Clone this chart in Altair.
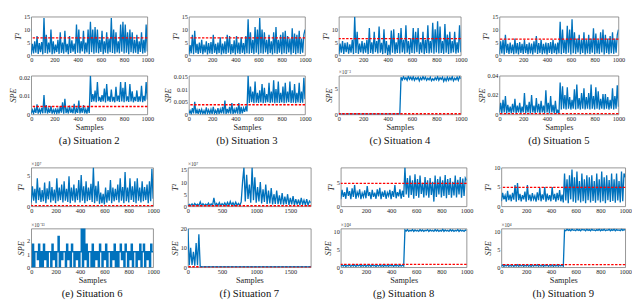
import altair as alt
import pandas as pd

FONT = "Liberation Serif"
BLUE = "#0072BD"
RED = "#FF0000"

# ---------------- data (one point per 10 samples) -------------
A_T2 = [0.5, 4.5, 0.8, 5.5, 1.0, 7.5, 0.6, 4.8, 1.2, 5.2,
        0.4, 14.5, 0.9, 8.0, 0.7, 5.0, 1.1, 10.0, 0.5, 5.5,
        0.8, 4.2, 1.3, 6.0, 0.6, 9.0, 1.0, 5.0, 0.7, 9.5,
        1.2, 4.5, 0.5, 7.5, 0.9, 5.8, 1.4, 4.6, 0.6, 12.0,
        1.0, 10.0, 0.8, 5.5, 1.5, 9.5, 0.7, 5.0, 1.1, 10.0,
        0.5, 13.0, 1.2, 10.0, 0.6, 11.0, 1.0, 10.0, 0.8, 6.0,
        1.3, 9.5, 0.5, 5.5, 1.0, 9.0, 0.7, 6.5, 1.2, 14.5,
        0.9, 10.0, 0.6, 9.0, 1.1, 5.5, 0.8, 12.0, 1.4, 13.0,
        0.7, 12.0, 1.0, 9.0, 0.5, 10.0, 1.2, 9.0, 0.8, 6.0,
        1.0, 8.0, 0.6, 5.5, 1.3, 9.0, 0.7, 6.0, 1.0, 12.0,
        1.5]
A_SPE = [0.0006, 0.0025, 0.0005, 0.0030, 0.0008, 0.0055, 0.0004, 0.0028, 0.0009, 0.0035,
         0.0006, 0.0105, 0.0007, 0.0050, 0.0005, 0.0030, 0.0009, 0.0045, 0.0004, 0.0025,
         0.0008, 0.0032, 0.0006, 0.0028, 0.0005, 0.0045, 0.0009, 0.0065, 0.0004, 0.0085,
         0.0007, 0.0030, 0.0005, 0.0048, 0.0009, 0.0028, 0.0006, 0.0058, 0.0004, 0.0030,
         0.0008, 0.0075, 0.0005, 0.0035, 0.0009, 0.0050, 0.0006, 0.0028, 0.0004, 0.0042,
         0.0008, 0.0210, 0.0068, 0.0110, 0.0070, 0.0130, 0.0066, 0.0175, 0.0072, 0.0095,
         0.0068, 0.0105, 0.0070, 0.0140, 0.0065, 0.0165, 0.0072, 0.0098, 0.0068, 0.0135,
         0.0070, 0.0095, 0.0066, 0.0150, 0.0072, 0.0102, 0.0068, 0.0175, 0.0070, 0.0145,
         0.0066, 0.0175, 0.0071, 0.0098, 0.0068, 0.0165, 0.0070, 0.0125, 0.0066, 0.0095,
         0.0072, 0.0130, 0.0068, 0.0098, 0.0070, 0.0155, 0.0066, 0.0100, 0.0072, 0.0175,
         0.0080]
B_T2 = [0.4, 4.0, 0.8, 8.0, 0.5, 9.5, 1.0, 4.5, 0.6, 5.0,
        0.9, 6.0, 0.5, 4.2, 1.1, 5.5, 0.4, 4.8, 0.8, 5.2,
        0.6, 8.0, 1.0, 4.5, 0.5, 5.0, 0.9, 7.0, 0.4, 4.6,
        0.8, 5.5, 0.6, 8.0, 1.0, 7.5, 0.5, 4.4, 0.9, 5.8,
        0.4, 7.5, 0.8, 5.0, 0.6, 7.0, 1.0, 4.8, 0.5, 7.5,
        0.8, 14.0, 0.6, 9.0, 0.9, 6.0, 0.5, 11.0, 1.0, 10.0,
        0.4, 14.5, 0.8, 10.0, 0.6, 9.0, 1.1, 6.0, 0.5, 8.0,
        0.9, 5.5, 0.4, 9.0, 0.8, 11.0, 0.6, 6.0, 1.0, 8.0,
        0.5, 9.0, 0.8, 9.5, 0.6, 7.5, 1.1, 6.5, 0.4, 10.5,
        0.9, 8.5, 0.5, 8.0, 0.8, 9.5, 0.6, 6.5, 1.0, 8.0,
        10.0]
B_SPE = [0.0003, 0.0015, 0.0002, 0.0025, 0.0004, 0.0050, 0.0003, 0.0018, 0.0002, 0.0022,
         0.0004, 0.0020, 0.0003, 0.0015, 0.0002, 0.0028, 0.0004, 0.0018, 0.0003, 0.0020,
         0.0002, 0.0030, 0.0004, 0.0016, 0.0003, 0.0025, 0.0002, 0.0020, 0.0004, 0.0030,
         0.0003, 0.0055, 0.0002, 0.0022, 0.0004, 0.0030, 0.0003, 0.0045, 0.0002, 0.0020,
         0.0004, 0.0028, 0.0003, 0.0045, 0.0002, 0.0030, 0.0004, 0.0025, 0.0010, 0.0032,
         0.0012, 0.0153, 0.0045, 0.0110, 0.0048, 0.0090, 0.0044, 0.0130, 0.0046, 0.0085,
         0.0045, 0.0095, 0.0047, 0.0120, 0.0044, 0.0105, 0.0046, 0.0080, 0.0048, 0.0125,
         0.0045, 0.0090, 0.0047, 0.0135, 0.0044, 0.0100, 0.0046, 0.0130, 0.0045, 0.0085,
         0.0047, 0.0110, 0.0044, 0.0125, 0.0046, 0.0090, 0.0048, 0.0130, 0.0045, 0.0095,
         0.0046, 0.0120, 0.0044, 0.0085, 0.0047, 0.0125, 0.0045, 0.0090, 0.0046, 0.0145,
         0.0060]
C_T2 = [0.5, 4.5, 1.0, 5.5, 0.6, 4.8, 1.2, 5.0, 0.7, 4.2,
        1.0, 6.0, 0.5, 14.8, 0.9, 9.0, 0.6, 4.5, 1.1, 5.5,
        0.7, 4.8, 1.0, 6.0, 0.5, 10.5, 0.9, 5.0, 0.6, 9.0,
        1.2, 5.5, 0.7, 11.0, 1.0, 4.8, 0.5, 10.0, 0.8, 5.5,
        0.2, 4.0, 0.3, 9.5, 1.0, 10.0, 0.6, 5.0, 0.9, 8.5,
        0.7, 10.5, 1.1, 6.0, 0.6, 11.5, 1.0, 5.5, 0.5, 6.5,
        0.9, 10.5, 0.7, 9.0, 1.2, 10.5, 0.6, 5.0, 1.0, 9.0,
        0.5, 6.0, 0.9, 11.5, 0.7, 5.5, 1.0, 12.5, 0.6, 10.0,
        1.1, 13.0, 0.7, 11.0, 0.9, 5.5, 0.6, 12.0, 1.0, 8.0,
        0.5, 9.0, 0.8, 5.5, 1.1, 9.0, 0.7, 5.0, 1.0, 11.5,
        1.2]
C_SPE = [0.05, 0.08, 0.04, 0.09, 0.05, 0.07, 0.04, 0.08, 0.05, 0.09,
         0.04, 0.08, 0.05, 0.07, 0.04, 0.09, 0.05, 0.08, 0.04, 0.07,
         0.05, 0.09, 0.04, 0.08, 0.05, 0.07, 0.04, 0.09, 0.05, 0.08,
         0.04, 0.07, 0.05, 0.09, 0.04, 0.08, 0.05, 0.07, 0.04, 0.09,
         0.05, 0.08, 0.04, 0.07, 0.05, 0.09, 0.04, 0.08, 0.05, 0.07,
         0.06, 7.30, 6.80, 7.40, 6.90, 7.20, 6.70, 7.50, 6.90, 7.30,
         6.80, 7.40, 6.70, 7.20, 6.90, 7.30, 6.60, 7.20, 6.80, 7.40,
         6.90, 7.30, 6.70, 7.10, 6.80, 7.30, 6.60, 7.00, 6.70, 7.20,
         6.80, 7.40, 6.70, 7.20, 6.90, 7.30, 6.50, 7.10, 6.60, 7.30,
         6.70, 7.20, 6.80, 7.40, 6.60, 7.10, 6.80, 7.30, 6.70, 7.40,
         7.00]
D_T2 = [0.5, 5.5, 0.8, 6.0, 0.4, 8.0, 1.0, 4.5, 0.6, 5.0,
        0.9, 4.2, 0.5, 6.5, 0.8, 4.8, 0.4, 5.2, 1.0, 4.5,
        0.6, 6.0, 0.9, 4.4, 0.5, 5.0, 0.8, 4.6, 0.4, 5.5,
        1.0, 7.5, 0.6, 4.8, 0.9, 6.0, 0.5, 4.5, 0.8, 5.0,
        0.4, 4.8, 1.0, 5.2, 0.6, 6.0, 0.9, 4.6, 0.5, 5.0,
        0.8, 13.0, 0.5, 10.0, 0.9, 6.0, 0.6, 11.5, 1.0, 10.0,
        0.4, 14.0, 0.8, 9.0, 0.6, 6.5, 1.1, 8.0, 0.5, 6.0,
        0.9, 9.0, 0.4, 6.0, 0.8, 8.0, 0.6, 6.5, 1.0, 10.5,
        0.5, 8.5, 0.8, 6.0, 0.6, 9.0, 1.1, 10.0, 0.4, 8.0,
        0.9, 6.5, 0.5, 7.5, 0.8, 9.0, 0.6, 6.5, 1.0, 8.0,
        10.0]
D_SPE = [0.002, 0.012, 0.001, 0.015, 0.002, 0.019, 0.001, 0.010, 0.002, 0.008,
         0.001, 0.011, 0.002, 0.016, 0.001, 0.009, 0.002, 0.012, 0.001, 0.008,
         0.002, 0.022, 0.001, 0.010, 0.002, 0.013, 0.001, 0.020, 0.002, 0.009,
         0.001, 0.017, 0.002, 0.011, 0.001, 0.014, 0.002, 0.009, 0.001, 0.025,
         0.002, 0.012, 0.001, 0.019, 0.002, 0.010, 0.001, 0.014, 0.001, 0.004,
         0.001, 0.033, 0.005, 0.029, 0.006, 0.020, 0.005, 0.028, 0.006, 0.018,
         0.005, 0.015, 0.006, 0.026, 0.005, 0.031, 0.006, 0.017, 0.005, 0.022,
         0.006, 0.027, 0.005, 0.018, 0.006, 0.022, 0.005, 0.031, 0.006, 0.019,
         0.005, 0.028, 0.006, 0.024, 0.005, 0.016, 0.006, 0.021, 0.005, 0.021,
         0.006, 0.018, 0.005, 0.015, 0.006, 0.027, 0.005, 0.019, 0.006, 0.030,
         0.008]
E_T2 = [0.6, 3.2, 0.9, 2.8, 0.5, 4.5, 1.0, 3.0, 0.7, 2.6,
        0.8, 3.8, 0.5, 2.9, 1.1, 4.0, 0.6, 3.1, 0.9, 2.7,
        0.5, 4.5, 0.8, 3.0, 1.0, 3.5, 0.6, 4.0, 0.9, 2.8,
        0.7, 4.8, 0.5, 3.0, 0.9, 3.5, 0.6, 2.9, 1.0, 4.2,
        0.6, 5.0, 0.9, 3.2, 0.5, 4.0, 0.8, 3.0, 1.0, 3.6,
        0.7, 6.2, 0.5, 3.3, 0.8, 4.0, 0.4, 2.2, 0.5, 2.0,
        0.3, 3.0, 0.6, 2.6, 0.9, 4.2, 0.5, 3.0, 0.8, 2.8,
        1.0, 3.5, 0.6, 4.5, 0.9, 3.1, 0.5, 5.5, 0.8, 3.0,
        0.6, 4.5, 1.0, 3.2, 0.7, 4.0, 0.5, 4.5, 0.9, 3.0,
        0.6, 4.0, 0.8, 3.1, 1.0, 3.5, 0.5, 4.0, 0.8, 6.0,
        1.2]
E_SPE = [0, 1.77, 0, 1.18, 1.18, 0.59, 1.77, 0, 1.18, 0,
         1.77, 0.59, 1.18, 0, 1.18, 1.18, 0, 1.77, 0.59, 1.18,
         0, 1.18, 2.36, 0, 1.18, 0.59, 1.18, 1.18, 0, 1.77,
         0.59, 1.18, 0, 1.77, 1.18, 0, 1.18, 0.59, 1.18, 0,
         1.18, 2.95, 0, 2.95, 0.59, 1.77, 0, 1.18, 1.18, 0,
         1.77, 0, 1.18, 0.59, 1.18, 0, 1.77, 1.18, 0, 1.18,
         0.59, 1.77, 0, 1.18, 1.18, 0, 1.18, 0.59, 1.77, 0,
         1.18, 0, 1.18, 1.77, 0.59, 1.18, 0, 1.77, 1.18, 0,
         1.18, 0.59, 1.77, 0, 1.18, 1.18, 0, 1.18, 0.59, 1.77,
         0, 1.18, 1.77, 0, 1.18, 0.59, 1.18, 0, 1.77, 1.18,
         1.18]
# Situation 7: one point per 20 samples, 0..1800
F_T2 = [0.2, 0.8, 0.3, 1.0, 0.2, 1.2, 0.4, 0.9, 0.3, 1.8,
        0.2, 1.1, 0.3, 0.9, 0.4, 1.3, 0.2, 1.0, 0.3, 3.5,
        0.4, 1.2, 0.3, 1.5, 0.2, 1.1, 0.4, 1.4, 0.3, 1.6,
        0.3, 2.0, 0.4, 1.5, 0.3, 1.7, 0.4, 1.2, 0.3, 1.8,
        10.0, 16.0, 2.0, 13.0, 3.0, 9.0, 1.5, 16.0, 2.5, 12.0,
        1.5, 8.0, 2.0, 10.0, 1.2, 7.0, 1.8, 9.0, 1.0, 6.5,
        1.2, 7.5, 0.8, 5.0, 1.0, 6.5, 0.9, 4.5, 0.8, 5.5,
        0.7, 4.0, 0.9, 5.0, 0.6, 3.5, 0.8, 4.2, 0.6, 3.0,
        0.7, 2.8, 0.5, 3.5, 0.8, 2.5, 0.6, 3.0, 0.5, 2.2,
        1.5]
F_SPE_X = [0, 20, 40, 60, 80, 100, 120, 140, 160, 180, 1800]
F_SPE = [20.0, 1.0, 10.0, 1.2, 8.0, 0.8, 12.5, 1.0, 17.0, 0.2, 0.2]
G_T2 = [1.5, 3.5, 2.0, 3.0, 1.6, 4.0, 2.2, 3.2, 1.5, 3.8,
        2.0, 4.5, 1.6, 3.0, 2.2, 3.6, 1.5, 2.8, 2.0, 3.4,
        1.7, 4.3, 2.2, 3.0, 1.5, 3.5, 2.0, 2.9, 1.6, 3.6,
        2.1, 3.9, 1.5, 3.1, 2.0, 3.4, 1.6, 2.9, 2.2, 3.5,
        1.5, 3.2, 2.0, 4.5, 1.7, 3.0, 2.1, 3.6, 1.6, 3.3,
        2.0, 8.2, 2.5, 6.0, 1.8, 6.5, 2.4, 5.5, 1.6, 6.8,
        2.2, 5.8, 1.8, 6.5, 2.6, 5.0, 1.9, 6.2, 2.3, 5.5,
        1.8, 6.0, 2.4, 5.2, 1.0, 6.5, 2.0, 5.8, 2.5, 6.3,
        1.9, 5.5, 2.2, 6.6, 1.7, 5.8, 2.4, 6.0, 1.8, 5.2,
        2.3, 6.5, 1.9, 5.6, 2.5, 6.2, 1.8, 5.9, 2.2, 6.0,
        5.5]
G_SPE = [0.25, 0.6, 0.3, 0.7, 0.2, 0.55, 0.35, 0.65, 0.25, 0.6,
         0.3, 0.7, 0.2, 0.6, 0.35, 0.65, 0.25, 0.55, 0.3, 0.7,
         0.2, 0.6, 0.3, 0.65, 0.25, 0.7, 0.35, 0.55, 0.2, 0.6,
         0.3, 0.65, 0.25, 0.6, 0.2, 0.7, 0.3, 0.55, 0.25, 0.65,
         0.35, 0.6, 0.2, 0.7, 0.3, 0.6, 0.25, 0.65, 0.3, 0.6,
         0.3, 10.5, 10.2, 10.6, 10.1, 10.4, 10.2, 10.6, 10.1, 10.5,
         10.2, 10.4, 10.1, 10.6, 10.2, 10.5, 10.1, 10.4, 10.3, 10.6,
         10.1, 10.5, 10.2, 10.4, 10.1, 10.6, 10.2, 10.5, 10.1, 10.4,
         10.2, 10.7, 10.1, 10.5, 10.2, 10.4, 10.1, 10.6, 10.2, 10.5,
         10.1, 10.4, 10.2, 10.6, 10.1, 10.5, 10.2, 10.4, 10.1, 10.5,
         10.3]
H_T2 = [1.3, 3.5, 1.8, 2.8, 1.2, 4.0, 1.6, 3.0, 1.3, 3.5,
        1.7, 5.5, 1.2, 6.0, 1.6, 3.2, 1.3, 2.9, 1.8, 3.8,
        1.2, 5.5, 1.6, 3.0, 1.3, 3.4, 1.8, 2.7, 1.2, 3.6,
        1.6, 4.8, 1.3, 3.1, 1.7, 5.0, 1.2, 3.3, 1.6, 2.9,
        1.3, 5.0, 1.7, 3.2, 1.2, 3.5, 1.6, 4.2, 1.3, 3.0,
        1.0, 8.5, 1.5, 7.0, 0.8, 8.0, 1.8, 9.5, 1.2, 7.5,
        0.9, 9.0, 1.5, 6.5, 1.0, 8.5, 1.3, 7.0, 0.8, 8.0,
        1.6, 7.5, 1.0, 8.0, 1.4, 6.5, 0.9, 8.5, 1.5, 7.0,
        1.0, 9.0, 1.3, 7.5, 0.8, 8.0, 1.6, 6.8, 1.1, 8.5,
        1.4, 7.0, 0.9, 8.5, 1.5, 6.5, 1.0, 9.0, 1.3, 8.5,
        7.5]
H_SPE = [0.3, 0.65, 0.2, 0.6, 0.35, 0.7, 0.25, 0.55, 0.3, 0.65,
         0.2, 0.6, 0.3, 0.7, 0.25, 0.55, 0.35, 0.65, 0.2, 0.6,
         0.3, 0.7, 0.25, 0.6, 0.2, 0.65, 0.3, 0.55, 0.35, 0.7,
         0.25, 0.6, 0.3, 0.65, 0.2, 0.6, 0.35, 0.7, 0.25, 0.55,
         0.3, 0.65, 0.2, 0.6, 0.3, 0.7, 0.25, 0.6, 0.35, 0.65,
         0.3, 10.4, 10.2, 10.6, 10.3, 10.5, 10.2, 10.6, 10.3, 10.4,
         10.2, 10.6, 10.3, 10.5, 10.2, 10.6, 10.4, 10.5, 10.2, 10.6,
         10.3, 10.5, 10.2, 10.6, 10.3, 10.4, 10.2, 10.5, 10.3, 10.6,
         10.2, 10.5, 10.3, 10.6, 10.2, 10.4, 10.3, 10.6, 10.2, 10.5,
         10.3, 10.6, 10.2, 10.5, 10.3, 10.4, 10.2, 10.6, 10.3, 10.5,
         10.4]

CAPTIONS = ["(a) Situation 2", "(b) Situation 3", "(c) Situation 4", "(d) Situation 5",
            "(e) Situation 6", "(f) Situation 7", "(g) Situation 8", "(h) Situation 9"]
X_TICKS = [0, 200, 400, 600, 800, 1000]
X_TICKS_F = [0, 500, 1000, 1500]


def panel(vals, ydom, yticks, thr, w, h, ytitle, yfmt="d", xmax=1000, xticks=X_TICKS,
          step=10, xs=None, exp=None, caption=None, interp="linear", red_under=False):
    if xs is None:
        xs = [i * step for i in range(len(vals))]
    df = pd.DataFrame({"x": xs, "y": vals})
    xaxis = dict(values=xticks, format="d")
    if caption is not None:
        xaxis["title"] = "Samples"
    else:
        xaxis["title"] = None
    xenc = alt.X("x:Q", scale=alt.Scale(domain=[0, xmax], nice=False, zero=False),
                 axis=alt.Axis(**xaxis))
    yscale = alt.Scale(domain=ydom, nice=False, zero=False)
    yaxis = alt.Axis(values=yticks, format=yfmt, title=ytitle, titleFontStyle="italic")
    yenc = alt.Y("y:Q", scale=yscale, axis=yaxis)
    line = alt.Chart(df).mark_line(color=BLUE, strokeWidth=1.35, clip=True,
                                   interpolate=interp).encode(x=xenc, y=yenc)
    layers = [line]
    if thr is not None:
        rule = alt.Chart(pd.DataFrame({"y": [thr]})).mark_rule(
            color=RED, strokeDash=[2.5, 1.5], strokeWidth=1.4).encode(
            y=alt.Y("y:Q", scale=yscale, axis=yaxis))
        layers = [rule, line] if red_under else [line, rule]
    if exp is not None:
        txt = alt.Chart(pd.DataFrame({"s": [exp]})).mark_text(
            align="left", baseline="bottom", fontSize=5.5, font=FONT, color="#333333",
            dy=-1).encode(x=alt.value(0), y=alt.value(0), text="s:N")
        layers.append(txt)
    ch = alt.layer(*layers).properties(width=w, height=h)
    if caption is not None:
        ch = ch.properties(title=alt.TitleParams(caption, orient="bottom", frame="group",
                                                 anchor="middle", offset=4))
    return ch


H = 40
T2 = "T²"
F3 = ".3~f"

a1 = panel(A_T2, [0, 15], [0, 5, 10, 15], 6.8, 120, H, T2)
b1 = panel(B_T2, [0, 15], [0, 5, 10, 15], 6.8, 120, H, T2)
c1 = panel(C_T2, [0, 14.8], [0, 5, 10], 6.4, 126, H, T2)
d1 = panel(D_T2, [0, 15], [0, 5, 10, 15], 6.3, 123, H, T2)
a2 = panel(A_SPE, [0, 0.021], [0, 0.01, 0.02], 0.0043, 120, H, "SPE", yfmt=F3,
           caption=CAPTIONS[0])
b2 = panel(B_SPE, [0, 0.0153], [0, 0.005, 0.01, 0.015], 0.0038, 120, H, "SPE", yfmt=F3,
           caption=CAPTIONS[1])
c2 = panel(C_SPE, [0, 7.6], [0, 5], 0.12, 126, H, "SPE", exp="×10⁻³", caption=CAPTIONS[2])
d2 = panel(D_SPE, [0, 0.04], [0, 0.02, 0.04], 0.0008, 123, H, "SPE", yfmt=F3,
           caption=CAPTIONS[3])

e1 = panel(E_T2, [0, 6.2], [0, 5], 0.12, 126, H, T2, exp="×10⁷")
f1 = panel(F_T2, [0, 16], [0, 5, 10, 15], 0.25, 127, H, T2, xmax=1800, xticks=X_TICKS_F,
           step=20, exp="×10⁷")
g1 = panel(G_T2, [0, 8.2], [0, 5], 4.85, 130, H, T2)
h1 = panel(H_T2, [0, 10], [0, 5, 10], 4.9, 128, H, T2)
e2 = panel(E_SPE, [0, 2.95], [0, 1, 2], None, 126, H, "SPE", exp="×10⁻¹³",
           caption=CAPTIONS[4], interp="step-after")
f2 = panel(F_SPE, [0, 20], [0, 10, 20], 0.25, 127, H, "SPE", xmax=1800, xticks=X_TICKS_F,
           xs=F_SPE_X, caption=CAPTIONS[5], red_under=True)
g2 = panel(G_SPE, [0, 10.9], [0, 5, 10], 0.8, 130, H, "SPE", exp="×10⁴", caption=CAPTIONS[6])
h2 = panel(H_SPE, [0, 10.8], [0, 5, 10], 0.75, 128, H, "SPE", exp="×10⁴", caption=CAPTIONS[7])

row1 = alt.concat(a1, b1, c1, d1, a2, b2, c2, d2, columns=4,
                  spacing={"row": 5, "column": 9}, align="each")
row2 = alt.concat(e1, f1, g1, h1, e2, f2, g2, h2, columns=4,
                  spacing={"row": 7, "column": 10}, align="each")

chart = alt.vconcat(row1, row2, spacing=15).properties(
    padding=0
).configure(
    font=FONT, padding=0
).configure_view(
    stroke="#7a7a7a", strokeWidth=0.8
).configure_axis(
    labelFont=FONT, labelFontSize=6.5, labelColor="#262626",
    titleFont=FONT, titleFontSize=8.5, titleColor="#262626", titleFontWeight="normal",
    domain=False, ticks=False, grid=False, labelPadding=1.5, titlePadding=1,
    labelFlush=False, labelOverlap=False
).configure_title(
    font=FONT, fontSize=11, fontWeight="normal", color="#111111"
)

chart.save("out.html", embed_options={"renderer": "svg", "actions": False})
